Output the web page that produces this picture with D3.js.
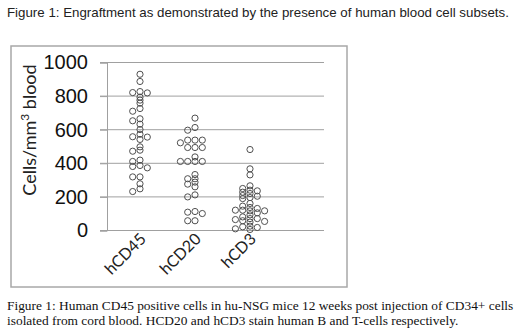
<!DOCTYPE html>
<meta charset="utf-8">
<script src="https://cdnjs.cloudflare.com/ajax/libs/d3/7.8.5/d3.min.js"></script>
<style>
  body { margin: 0; background: #fff; }
</style>
<div id="my_dataviz"></div>

<script>
    // data (cells per mm3 blood)
    var categories = ["hCD45", "hCD20", "hCD3"];
    var hCD45 = [930, 887, 827, 821, 819, 794, 776, 758, 726, 710, 665, 653, 633, 601, 573, 558, 556, 542,
                 498, 478, 472, 419, 411, 387, 381, 373, 319, 319, 278, 248, 232];
    var hCD20 = [669, 613, 597, 538, 538, 538, 522, 494, 494, 494, 438, 411, 411, 411, 411, 333, 308, 308,
                 288, 276, 260, 212, 200, 113, 109, 101, 58, 58];
    var hCD3 = [482, 367, 331, 266, 250, 240, 236, 228, 220, 208, 204, 196, 190, 161, 145, 137, 131, 121,
                121, 117, 117, 105, 93, 81, 71, 71, 65, 58, 54, 50, 26, 22, 18, 10, 6];
    var yTicks = [0, 200, 400, 600, 800, 1000];

    var series = { hCD45: hCD45, hCD20: hCD20, hCD3: hCD3 };

    var W = 520, H = 334;
    var svg = d3.select("#my_dataviz")
        .append("svg")
        .attr("width", W)
        .attr("height", H);

    // title
    svg.append("text")
        .attr("x", 7)
        .attr("y", 17)
        .style("font-family", "Liberation Sans, Arial, sans-serif")
        .style("font-size", "13.3px")
        .style("fill", "#222")
        .text("Figure 1: Engraftment as demonstrated by the presence of human blood cell subsets.");

    // frame around chart
    svg.append("rect")
        .attr("x", 11).attr("y", 46)
        .attr("width", 336).attr("height", 241)
        .attr("fill", "none")
        .attr("stroke", "#a8a8a8")
        .attr("stroke-width", 1.5);

    // scales
    var y = d3.scaleLinear().domain([0, 1000]).range([230.5, 62.5]);
    var x = d3.scalePoint().domain(categories).range([140, 250]);

    // grid lines
    svg.selectAll("grid")
        .data(yTicks)
        .enter()
        .append("line")
        .attr("x1", 100).attr("x2", 324)
        .attr("y1", function (d) { return y(d); })
        .attr("y2", function (d) { return y(d); })
        .attr("stroke", "#a0a0a0")
        .attr("stroke-width", 1);

    // y axis
    var yAxis = svg.append("g")
        .attr("transform", "translate(107,0)")
        .call(d3.axisLeft(y).tickValues(yTicks).tickSize(7).tickPadding(12).tickFormat(d3.format("d")));
    yAxis.select(".domain").attr("stroke", "#a0a0a0");
    yAxis.selectAll(".tick line").attr("stroke", "#a0a0a0");
    yAxis.selectAll("text")
        .style("font-family", "Liberation Sans, Arial, sans-serif")
        .style("font-size", "20px")
        .style("fill", "#111");

    // y label
    var ylab = svg.append("text")
        .attr("transform", "translate(36,130)rotate(-90)")
        .attr("text-anchor", "middle")
        .style("font-family", "Lato, sans-serif")
        .style("font-size", "18px")
        .style("fill", "#222");
    ylab.append("tspan").text("Cells/mm");
    ylab.append("tspan").attr("dy", -7).style("font-size", "12px").text("3");
    ylab.append("tspan").attr("dy", 7).text(" blood");

    // category labels
    svg.selectAll("catlab")
        .data(categories)
        .enter()
        .append("text")
        .attr("transform", function (d) { return "translate(" + (x(d) + 7) + ",240)rotate(-45)"; })
        .attr("text-anchor", "end")
        .style("font-family", "Lato, sans-serif")
        .style("font-size", "16px")
        .style("fill", "#222")
        .text(function (d) { return d; });

    // simple lane based beeswarm so dots do not sit on top of each other
    var lane = 7.3, minGap = 3;
    var dots = [];
    categories.forEach(function (c) {
        var placed = [];
        series[c].slice().sort(function (a, b) { return b - a; }).forEach(function (v) {
            var py = y(v);
            var order = [0, -1, 1, -2, 2, -3, 3, -4, 4];
            for (var i = 0; i < order.length; i++) {
                var k = order[i];
                var clash = placed.some(function (p) { return p.k == k && Math.abs(p.py - py) < minGap; });
                if (!clash) break;
            }
            placed.push({ k: k, py: py });
            dots.push({ cat: c, value: v, k: k });
        });
    });

    svg.selectAll("dot")
        .data(dots)
        .enter()
        .append("circle")
        .attr("cx", function (d) { return x(d.cat) + d.k * lane; })
        .attr("cy", function (d) { return y(d.value); })
        .attr("r", 3.1)
        .style("fill", "none")
        .attr("stroke", "#505050")
        .attr("stroke-width", 1);

    // caption
    var cap = svg.append("text")
        .style("font-family", "Liberation Serif, Times New Roman, serif")
        .style("font-size", "13.4px")
        .style("fill", "#111");
    cap.append("tspan").attr("x", 7).attr("y", 310)
        .text("Figure 1: Human CD45 positive cells in hu-NSG mice 12 weeks post injection of CD34+ cells");
    cap.append("tspan").attr("x", 7).attr("y", 325)
        .text("isolated from cord blood. HCD20 and hCD3 stain human B and T-cells respectively.");
</script>
